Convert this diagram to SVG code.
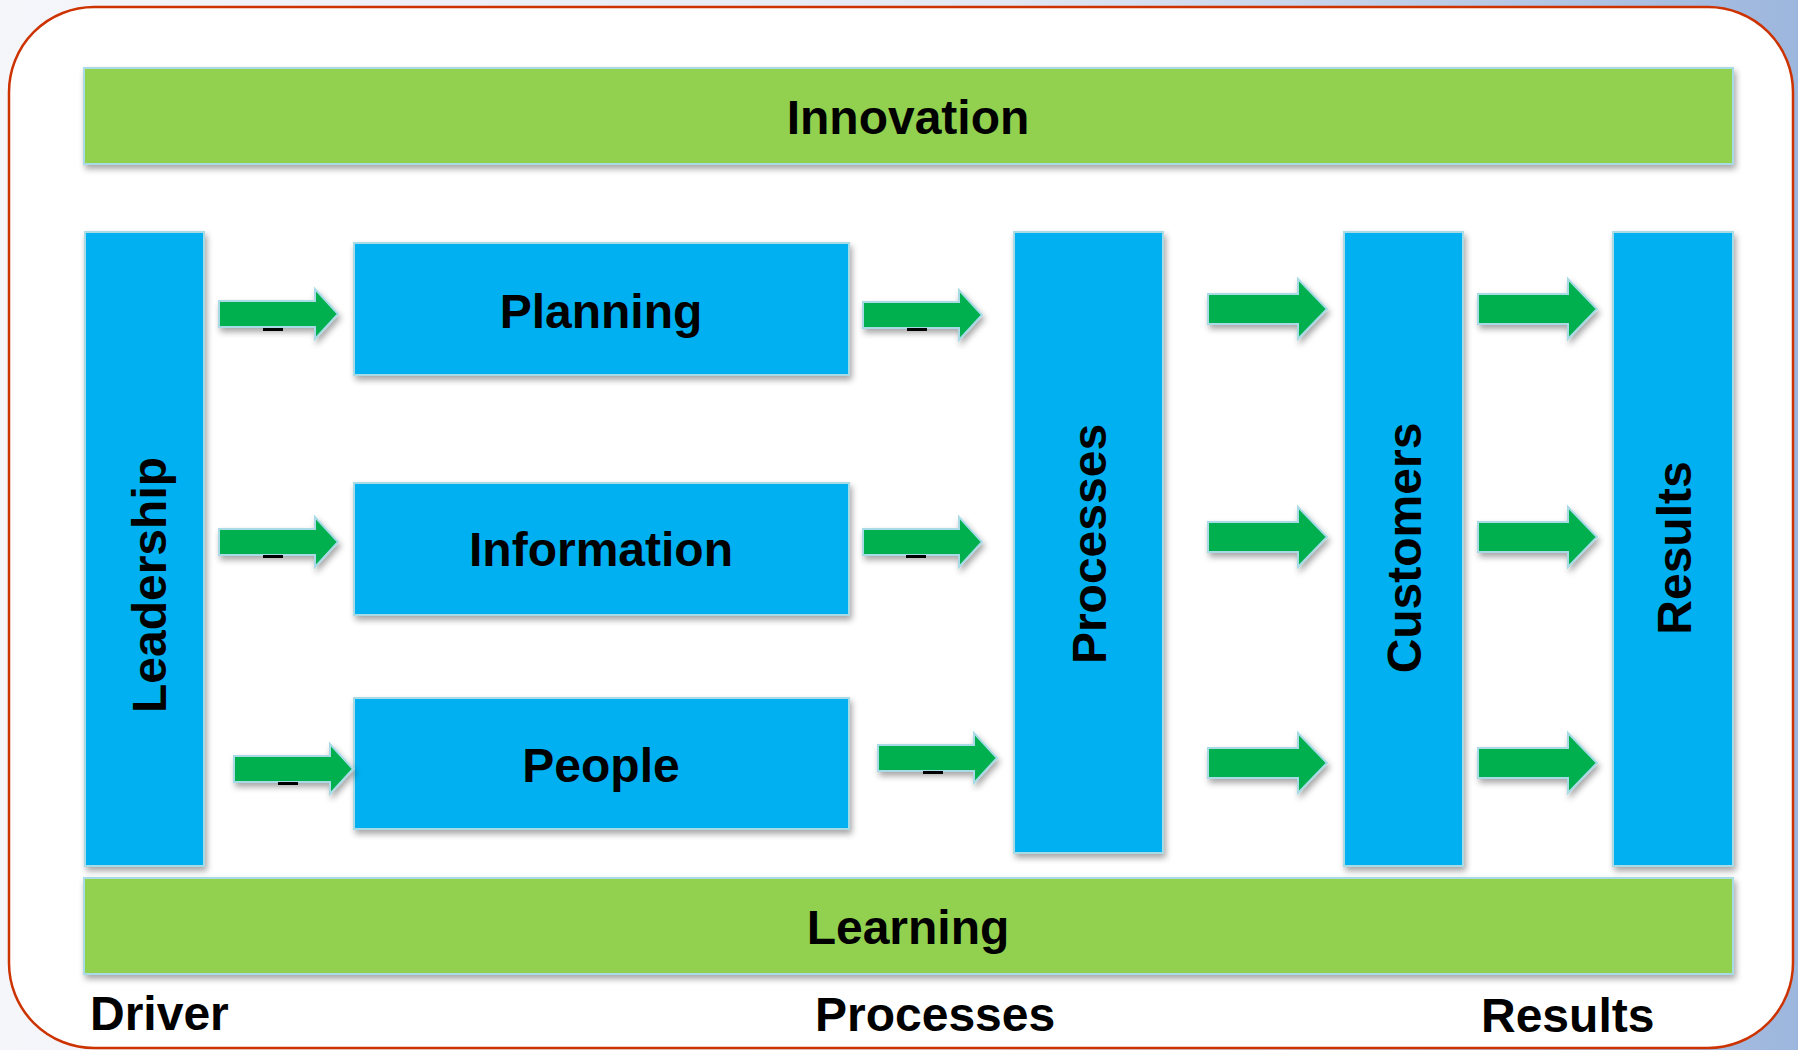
<svg xmlns="http://www.w3.org/2000/svg" width="1798" height="1050" viewBox="0 0 1798 1050">
<defs>
<linearGradient id="bg" x1="0" y1="0" x2="1" y2="0">
<stop offset="0" stop-color="#f5f6fa"/>
<stop offset="0.55" stop-color="#e3e9f4"/>
<stop offset="1" stop-color="#9db6dd"/>
</linearGradient>
<filter id="sh" x="-10%" y="-10%" width="130%" height="130%">
<feDropShadow dx="2" dy="4" stdDeviation="3" flood-color="#000" flood-opacity="0.35"/>
</filter>
<path id="aS" d="M0,-13 H96 V-25 L119,0 L96,25 V13 H0 Z"/>
<path id="aL" d="M0,-15 H90 V-30 L119,0 L90,30 V15 H0 Z"/>
</defs>
<style>
.blue{fill:#00b0f0;stroke:#a8dbe6;stroke-width:2;filter:url(#sh)}
.green{fill:#92d050;stroke:#a8dbe6;stroke-width:2;filter:url(#sh)}
.arr{fill:#00b050;stroke:#a8dbe6;stroke-width:2;filter:url(#sh)}
.t{font-family:"Liberation Sans",Arial,sans-serif;font-weight:bold;font-size:48px;fill:#000;text-anchor:middle}
.lbl{font-family:"Liberation Sans",Arial,sans-serif;font-weight:bold;font-size:48px;fill:#000}
.dash{fill:#000}
</style>
<rect x="0" y="0" width="1798" height="1050" fill="url(#bg)"/>
<rect x="9" y="7" width="1784" height="1041" rx="85" ry="85" fill="#fff" stroke="#cc3300" stroke-width="2.5"/>

<g id="innovation"><rect class="green" x="84" y="68" width="1649" height="96"/><text class="t" x="908" y="134">Innovation</text></g>
<g id="learning"><rect class="green" x="84" y="878" width="1649" height="96"/><text class="t" x="908" y="944">Learning</text></g>

<g id="leadership"><rect class="blue" x="85" y="232" width="119" height="634"/><text class="t" transform="translate(166,585) rotate(-90)">Leadership</text></g>
<g id="planning"><rect class="blue" x="354" y="243" width="495" height="132"/><text class="t" x="601" y="328">Planning</text></g>
<g id="information"><rect class="blue" x="354" y="483" width="495" height="132"/><text class="t" x="601" y="566">Information</text></g>
<g id="people"><rect class="blue" x="354" y="698" width="495" height="131"/><text class="t" x="601" y="782">People</text></g>
<g id="processes"><rect class="blue" x="1014" y="232" width="149" height="621"/><text class="t" transform="translate(1106,544) rotate(-90)">Processes</text></g>
<g id="customers"><rect class="blue" x="1344" y="232" width="119" height="634"/><text class="t" transform="translate(1421,548) rotate(-90)">Customers</text></g>
<g id="results"><rect class="blue" x="1613" y="232" width="120" height="634"/><text class="t" transform="translate(1691,548) rotate(-90)">Results</text></g>

<g id="connectors">
<use href="#aS" class="arr" x="219" y="314"/>
<use href="#aS" class="arr" x="219" y="542"/>
<use href="#aS" class="arr" x="234" y="769"/>
<use href="#aS" class="arr" x="863" y="315"/>
<use href="#aS" class="arr" x="863" y="542"/>
<use href="#aS" class="arr" x="878" y="758"/>
<use href="#aL" class="arr" x="1208" y="309"/>
<use href="#aL" class="arr" x="1208" y="537"/>
<use href="#aL" class="arr" x="1208" y="763"/>
<use href="#aL" class="arr" x="1478" y="309"/>
<use href="#aL" class="arr" x="1478" y="537"/>
<use href="#aL" class="arr" x="1478" y="763"/>
<rect class="dash" x="263" y="328" width="20" height="3"/>
<rect class="dash" x="263" y="555" width="20" height="3"/>
<rect class="dash" x="278" y="782" width="20" height="3"/>
<rect class="dash" x="907" y="328" width="20" height="3"/>
<rect class="dash" x="906" y="555" width="20" height="3"/>
<rect class="dash" x="923" y="771" width="20" height="3"/>
</g>

<g id="footer">
<text class="lbl" x="90" y="1030">Driver</text>
<text class="lbl" x="815" y="1031">Processes</text>
<text class="lbl" x="1481" y="1032">Results</text>
</g>
</svg>
